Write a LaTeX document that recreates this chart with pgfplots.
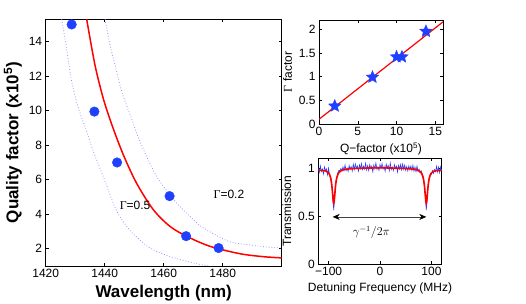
\documentclass[border=0pt]{standalone}
\usepackage{pgfplots}
\pgfplotsset{compat=1.18}
\usepackage{fontspec}
\setmainfont{Liberation Sans}
\newfontfamily\serif{Liberation Serif}
\usetikzlibrary{arrows.meta}
\definecolor{mblue}{rgb}{0.12,0.25,1}
\definecolor{lblue}{rgb}{0.55,0.6,1}
\pgfdeclareplotmark{fstar}{%
 \pgfpathmoveto{\pgfqpointpolar{90}{\pgfplotmarksize}}%
 \pgfpathlineto{\pgfqpointpolar{126}{0.45\pgfplotmarksize}}%
 \pgfpathlineto{\pgfqpointpolar{162}{\pgfplotmarksize}}%
 \pgfpathlineto{\pgfqpointpolar{198}{0.45\pgfplotmarksize}}%
 \pgfpathlineto{\pgfqpointpolar{234}{\pgfplotmarksize}}%
 \pgfpathlineto{\pgfqpointpolar{270}{0.45\pgfplotmarksize}}%
 \pgfpathlineto{\pgfqpointpolar{306}{\pgfplotmarksize}}%
 \pgfpathlineto{\pgfqpointpolar{342}{0.45\pgfplotmarksize}}%
 \pgfpathlineto{\pgfqpointpolar{18}{\pgfplotmarksize}}%
 \pgfpathlineto{\pgfqpointpolar{54}{0.45\pgfplotmarksize}}%
 \pgfpathclose
 \pgfusepathqfillstroke}
\begin{document}
\begin{tikzpicture}
\path[use as bounding box] (0pt,0pt) rectangle (526pt,304pt);
\pgfplotsset{every axis/.append style={scale only axis, anchor=south west,
  tick align=inside, axis line style={line width=0.6pt}, major tick length=3pt,
  /pgf/number format/assume math mode=true, /pgf/number format/1000 sep={},
  tick label style={font=\fontsize{12}{14}\selectfont},
  every tick/.style={black, line width=0.5pt}}}
% ---------- main axis ----------
\begin{axis}[at={(45.7pt,38pt)}, width=236pt, height=246.7pt,
  xmin=1420, xmax=1500, ymin=1, ymax=15.3,
  xtick={1420,1440,1460,1480}, ytick={2,4,6,8,10,12,14},
  xlabel={Wavelength (nm)}, ylabel={Quality factor (x10\textsuperscript{5})},
  label style={font=\fontsize{17}{20}\selectfont\bfseries}]
\addplot[lblue, dotted, line width=0.8pt, smooth] coordinates {
 (1425.4,15.3) (1427.1,13.6) (1428.8,11.7) (1431.1,10.15) (1433.9,8.8) (1436,7.7)
 (1439.5,6.19) (1442.9,4.65) (1445,3.9) (1448.6,3.05) (1452,2.5) (1455.4,2.04)
 (1460,1.68) (1465,1.4) (1470,1.18) (1475,1.0) };
\addplot[lblue, dotted, line width=0.8pt, smooth] coordinates {
 (1440.1,15.3) (1441.8,13.8) (1443.5,12.65) (1445.8,11.1) (1449.2,9.5) (1452,8.2)
 (1457.6,6.19) (1464.4,4.65) (1468.9,3.87) (1472.3,3.35) (1476,2.95) (1482.5,2.4)
 (1489.3,2.22) (1495,2.1) (1500,2.04) };
\addplot[red, line width=1.5pt, smooth] coordinates {
 (1433.9,15.3) (1436.7,12.65) (1439.5,10.72) (1442.4,9.2) (1446.3,7.45)
 (1450.8,5.8) (1456.5,4.26) (1462.1,3.3) (1467.8,2.72) (1475.7,2.14)
 (1485.9,1.71) (1493.8,1.54) (1500,1.47) };
\addplot[only marks, mark=*, mark size=4.8pt, mblue] coordinates {
 (1428.8,15.0) (1436.5,9.95) (1444.2,7.0) (1462,5.05) (1467.6,2.73) (1478.6,2.04) };
\node[font=\fontsize{12}{14}\selectfont] at (axis cs:1450.3,4.54) {{\serif Γ}=0.5};
\node[font=\fontsize{12}{14}\selectfont] at (axis cs:1482.1,5.13) {{\serif Γ}=0.2};
\end{axis}
% ---------- top right ----------
\begin{axis}[at={(319pt,180pt)}, width=124pt, height=104pt,
  xmin=0, xmax=16, ymin=0, ymax=2.2,
  xtick={0,5,10,15}, ytick={0,0.5,1,1.5,2}, yticklabels={0,0.5,1,1.5,2},
  xlabel={Q−factor (x10\textsuperscript{5})}, ylabel={{\serif Γ} factor},
  label style={font=\fontsize{12}{14}\selectfont}]
\addplot[red, line width=1.2pt] coordinates {(0,0.1) (16,2.16)};
\addplot[only marks, mark=fstar, mark size=6.5pt, mblue] coordinates {
 (2.03,0.38) (6.9,0.99) (10.0,1.42) (10.7,1.42) (13.8,1.96) };
\end{axis}
% ---------- bottom right ----------
\begin{axis}[at={(318.3pt,40pt)}, width=123.4pt, height=105.7pt,
  xmin=-120, xmax=120, ymin=0, ymax=1.1,
  xtick={-100,0,100}, xticklabels={−100,0,100},
  ytick={0,0.5,1}, yticklabels={0,0.5,1},
  xlabel={Detuning Frequency (MHz)}, ylabel={Transmission},
  label style={font=\fontsize{12}{14}\selectfont}]
\addplot[mblue, line width=0.6pt] coordinates {
 (-120,1.005) (-118,0.955) (-116,1.020) (-114,0.964) (-112,0.988) (-110,0.937)
 (-108,1.010) (-106,0.968) (-104,0.989) (-102,0.927) (-100,0.997) (-98,0.914)
 (-96,0.907) (-94,0.808) (-93,0.80) (-92,0.70) (-91,0.63) (-90,0.56) (-89,0.64)
 (-88,0.70) (-87,0.80) (-86,0.850) (-84,0.905) (-82,0.95) (-80,0.975) (-78,0.972)
 (-76,0.995) (-74,0.966) (-72,1.01) (-70,0.972) (-68,1.03) (-66,0.972) (-64,0.998)
 (-62,0.964) (-60,1.025) (-58,0.986) (-56,1.012) (-54,0.968) (-52,1.038) (-50,0.984)
 (-48,1.04) (-46,0.995) (-44,1.02) (-42,0.966) (-40,1.031) (-38,0.992) (-36,1.043)
 (-34,0.983) (-32,1.018) (-30,0.988) (-28,1.048) (-26,0.979) (-24,1.024) (-22,0.974)
 (-20,1.034) (-18,0.994) (-16,1.019) (-14,0.959) (-12,1.03) (-10,0.99) (-8,1.05)
 (-6,0.985) (-4,1.01) (-2,0.975) (0,1.035) (2,0.995) (4,1.045) (6,0.99) (8,1.015)
 (10,0.965) (12,1.04) (14,1.0) (16,1.025) (18,0.97) (20,1.049) (22,0.984) (24,1.009)
 (26,0.973) (28,1.033) (30,0.993) (32,1.018) (34,0.958) (36,1.027) (38,0.987)
 (40,1.035) (42,0.98) (44,1.04) (46,0.985) (48,1.03) (50,0.974) (52,1.014)
 (54,0.969) (56,1.02) (58,0.981) (60,1.02) (62,0.974) (64,1.028) (66,0.967)
 (68,1.01) (70,0.962) (72,1.02) (74,0.961) (76,0.985) (78,0.947) (80,0.971)
 (82,0.936) (84,0.885) (86,0.824) (87,0.79) (88,0.71) (89,0.64) (90,0.56)
 (91,0.63) (92,0.70) (93,0.79) (94,0.838) (96,0.892) (98,0.939) (100,0.932)
 (102,0.972) (104,0.944) (106,0.983) (108,0.96) (110,1.017) (112,0.958)
 (114,1.009) (116,0.95) (118,1.01) (120,0.965) };
\addplot[red, line width=1.6pt, smooth] coordinates {
 (-120,0.975) (-110,0.972) (-105,0.967) (-100,0.947) (-98,0.929) (-96,0.897)
 (-95,0.870) (-94,0.833) (-93,0.781) (-92,0.718) (-91,0.657) (-90,0.630)
 (-89,0.658) (-88,0.719) (-87,0.782) (-86,0.834) (-85,0.872) (-84,0.899)
 (-82,0.931) (-80,0.951) (-75,0.974) (-70,0.982) (-60,0.990) (-50,0.994)
 (-40,0.996) (-20,0.999) (0,1.000) (20,0.999) (40,0.996) (50,0.994) (60,0.990)
 (70,0.982) (75,0.974) (80,0.951) (82,0.931) (84,0.899) (85,0.872) (86,0.834)
 (87,0.782) (88,0.719) (89,0.658) (90,0.630) (91,0.657) (92,0.718) (93,0.781)
 (94,0.833) (95,0.870) (96,0.897) (98,0.929) (100,0.947) (105,0.967)
 (110,0.972) (120,0.975) };
\draw[black!75, line width=0.6pt, {Stealth[length=7pt,width=6pt,black]}-{Stealth[length=7pt,width=6pt,black]}]
  (axis cs:-92,0.49) -- (axis cs:90,0.49);
\node[font=\fontsize{12}{14}\selectfont] at (axis cs:-17,0.33) {$\gamma^{-1}/2\pi$};
\end{axis}
\end{tikzpicture}
\end{document}
